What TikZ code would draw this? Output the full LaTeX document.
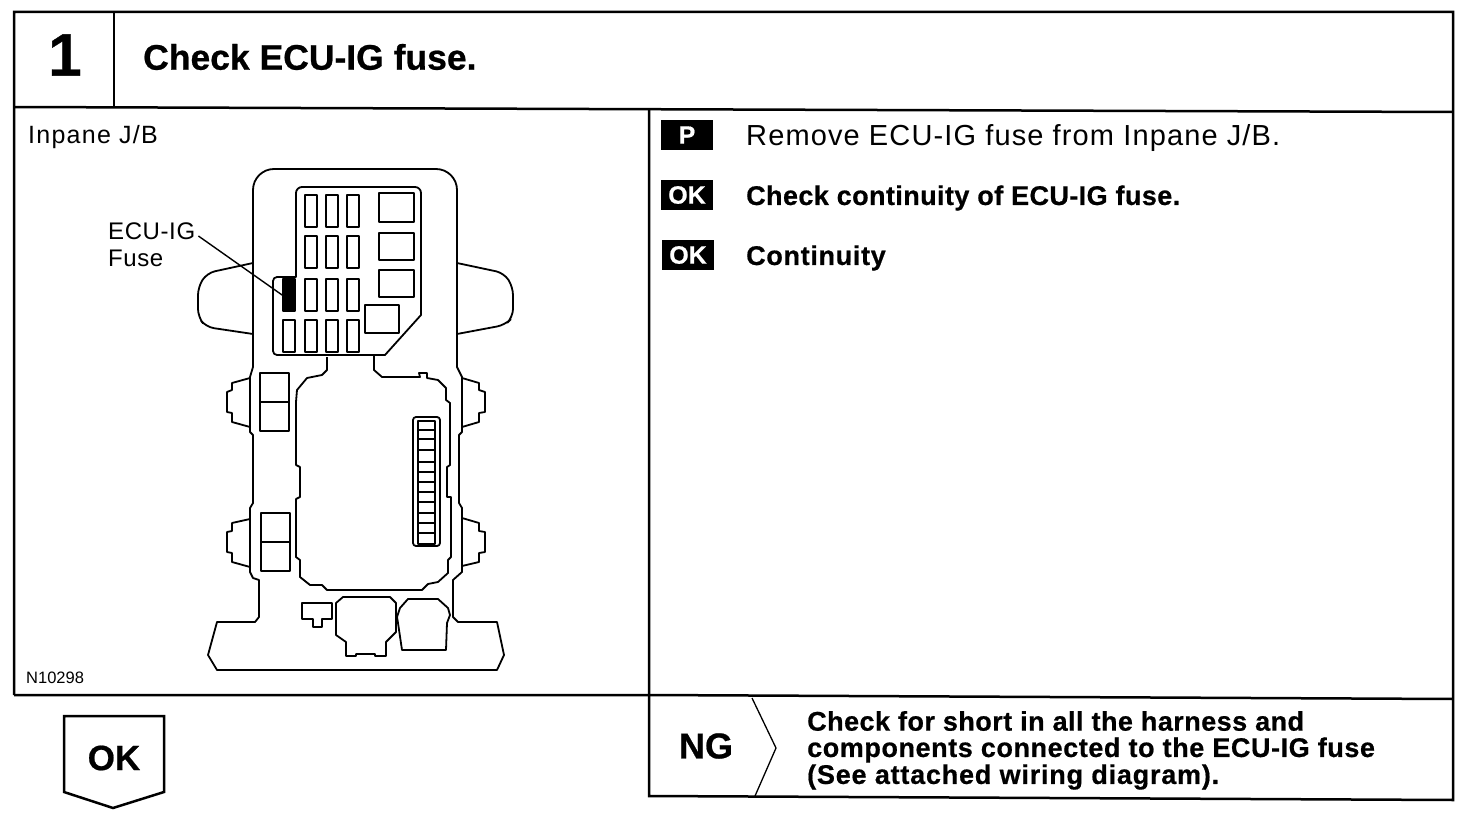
\documentclass[tikz,border=0pt]{standalone}
\usepackage{fontspec}
\setmainfont{Liberation Sans}
\newcommand{\fsz}[1]{\fontsize{#1}{#1}\selectfont}
\newcommand{\ls}[1]{\addfontfeature{LetterSpace=#1}}
\newcommand{\hv}{\addfontfeature{FakeBold=0.6}}
\tikzset{
 x=1pt,y=-1pt,
 frame/.style={draw=black,line width=2.5pt},
 part/.style={draw=black,line width=1.8pt,line join=round},
 thin part/.style={draw=black,line width=1.3pt,line join=round},
 txt/.style={inner sep=0pt,anchor=west,text=black},
 tag/.style={fill=black,text=white,font=\bfseries\fsz{25}\hv,inner sep=0pt,minimum width=52pt,minimum height=30pt},
 fuse/.style={part,minimum width=12pt,minimum height=32pt,inner sep=0pt},
 relay/.style={part}
}
\begin{document}
\begin{tikzpicture}
\useasboundingbox (0,0) rectangle (1472,818);
\fill[white] (0,0) rectangle (1472,818);
% frames
\draw[frame] (14,695) -- (14,12) -- (1453,12) -- (1453,800) -- (649,796) -- (649,110);
\draw[frame] (14,107) -- (300,108) -- (1453,112);
\draw[frame] (14,695) -- (649,695) -- (1453,699);
\draw[frame] (114,12) -- (114,107);
\node[txt,anchor=center,font=\bfseries\fsz{60}\hv] (num) at (65,55) {1};
\node[txt,font=\bfseries\fsz{35.5}\hv] (title) at (143,57) {Check ECU-IG fuse.};
\node[txt,font=\fsz{25}\ls{5}] (inpane) at (28,137) {Inpane J/B};
\node[txt,font=\fsz{16.5}] (code) at (26,678) {N10298};
% tags
\node[tag] (p) at (687,135) {P};
\node[tag] (ok1) at (687,195) {OK};
\node[tag] (ok2) at (688,255) {OK};
\node[txt,font=\fsz{29}\ls{3.9}] (t1) at (746,138) {Remove ECU-IG fuse from Inpane J/B.};
\node[txt,font=\bfseries\fsz{27}\ls{1.5}\hv] (t2) at (746,198) {Check continuity of ECU-IG fuse.};
\node[txt,font=\bfseries\fsz{27}\ls{2.5}\hv] (t3) at (746,258) {Continuity};
% body
\draw[part] [rounded corners=21pt] (253,300) -- (253,169) -- (457,169) [sharp corners] -- (457,367) -- (462,377) -- (462,432) -- (459,435) -- (459,503) -- (462,508) -- (462,572) -- (453,580)
 -- (453,617) -- (458,622) -- (497,622) -- (504,655) -- (497,670) -- (217,670) -- (208,655) -- (217,622) -- (255,622)
 -- (259,617) -- (259,580) -- (253,578) -- (250,572) -- (250,508) -- (253,503) -- (253,435) -- (250,432) -- (250,377) -- (253,367) -- cycle;
% ears
\draw[part,rounded corners=8pt] (253,263) -- (207,273) -- (198,287) -- (198,317) -- (206,327) -- (253,334);
\draw[part,rounded corners=8pt] (457,263) -- (504,273) -- (513,287) -- (513,317) -- (505,325) -- (457,334);
% knobs
\draw[part] (250,378) -- (232,383) -- (232,390) -- (227,392) -- (227,412) -- (232,413) -- (232,422) -- (250,427);
\draw[part] (250,519) -- (232,523) -- (232,531) -- (227,532) -- (227,552) -- (232,553) -- (232,562) -- (250,567);
\draw[part] (462,378) -- (479,383) -- (479,390) -- (485,392) -- (485,412) -- (479,413) -- (479,422) -- (462,427);
\draw[part] (462,518) -- (479,523) -- (479,531) -- (485,532) -- (485,552) -- (479,553) -- (479,562) -- (462,566);
% fuse panel
\filldraw[part,fill=white] [rounded corners=6pt] (296,240) -- (296,187) -- (421,187) [sharp corners] -- (421,315) -- (385,355) [rounded corners=4pt] -- (273,355) -- (273,277) [sharp corners] -- (296,277) -- cycle;
\foreach \cx/\cnum in {311/a,332/b,353/c}{
 \foreach \cy/\rnum in {211/1,252/2,295/3,336/4}{
  \node[fuse,draw] (f\cnum\rnum) at (\cx,\cy) {};
 }
}
\node[fuse,draw] (fd4) at (289,336) {};
\node[fuse,draw,fill=black] (target) at (289,295) {};
\draw[relay] (379,193) rectangle (414,222);
\draw[relay] (379,233) rectangle (414,260);
\draw[relay] (379,270) rectangle (414,297);
\draw[relay] (365,305) rectangle (399,333);
% leader
\node[txt,font=\fsz{24}\ls{2.5}] (ecu) at (108,231) {ECU-IG};
\node[txt,font=\fsz{24}\ls{2.5}] (fz) at (108,258) {Fuse};
\draw[line width=1.4pt] (ecu.east) ++(3,5) -- (target.west);
% big block
\draw[part] (327,357) -- (327,370) -- (322,375) -- (307,378) -- (297,390) -- (296,402) -- (296,465) -- (300,467) -- (300,497) -- (296,499) -- (296,557)
 -- (300,560) -- (300,577) -- (310,585) -- (322,585) -- (327,590) -- (422,590) -- (428,584) -- (438,582) -- (448,573) -- (448,560) -- (451,557)
 -- (451,497) -- (447,497) -- (447,467) -- (450,465) -- (450,403) -- (446,400) -- (446,388) -- (438,380) -- (427,378) -- (427,373) -- (419,373) -- (420,377)
 -- (382,377) -- (374,370) -- (374,355);
% relays
\draw[relay] (260,373) rectangle (289,431);
\draw[relay] (260,402) -- (289,402);
\draw[relay] (261,513) rectangle (290,571);
\draw[relay] (261,542) -- (290,542);
% fuse strip
\draw[part,rounded corners=3pt] (413,417) rectangle (440,546);
\draw[thin part] (418,421) rectangle (435,544);
\foreach \ly in {430,439,450,462,472,482,492,502,513,523,533}{\draw[thin part] (418,\ly) -- (435,\ly);}
% connectors
\draw[part] (302,603) -- (332,603) -- (332,619) -- (322,619) -- (322,627) -- (313,627) -- (313,619) -- (302,619) -- cycle;
\draw[part] (343,597) -- (390,597) -- (396,603) -- (396,632) -- (386,642) -- (386,656) -- (375,656) -- (375,654) -- (356,654) -- (356,656) -- (346,656) -- (346,642) -- (336,635) -- (336,603) -- cycle;
\draw[part] (408,599) -- (438,599) -- (448,608) -- (450,615) -- (447,623) -- (446,650) -- (402,650) -- (398,623) -- (397,617) -- (400,608) -- cycle;
% OK pentagon
\node[inner sep=0pt,font=\bfseries\fsz{35}\hv] (okb) at (114,758) {OK};
\draw[frame] (64,716) -- (164,716) -- (164,792) -- (113,808) -- (64,792) -- cycle;
% NG
\node[inner sep=0pt,font=\bfseries\fsz{36}\hv] (ng) at (706,746) {NG};
\draw[line width=1.3pt] (752,698) -- (776,748) -- (755,796);
\node[txt,font=\bfseries\fsz{27}\ls{1.7}\hv] (n1) at (807,721) {Check for short in all the harness and};
\node[txt,font=\bfseries\fsz{27}\ls{2.1}\hv] (n2) at (807,750) {components connected to the ECU-IG fuse};
\node[txt,font=\bfseries\fsz{27}\ls{2.9}\hv] (n3) at (807,777) {(See attached wiring diagram).};
\end{tikzpicture}
\end{document}
